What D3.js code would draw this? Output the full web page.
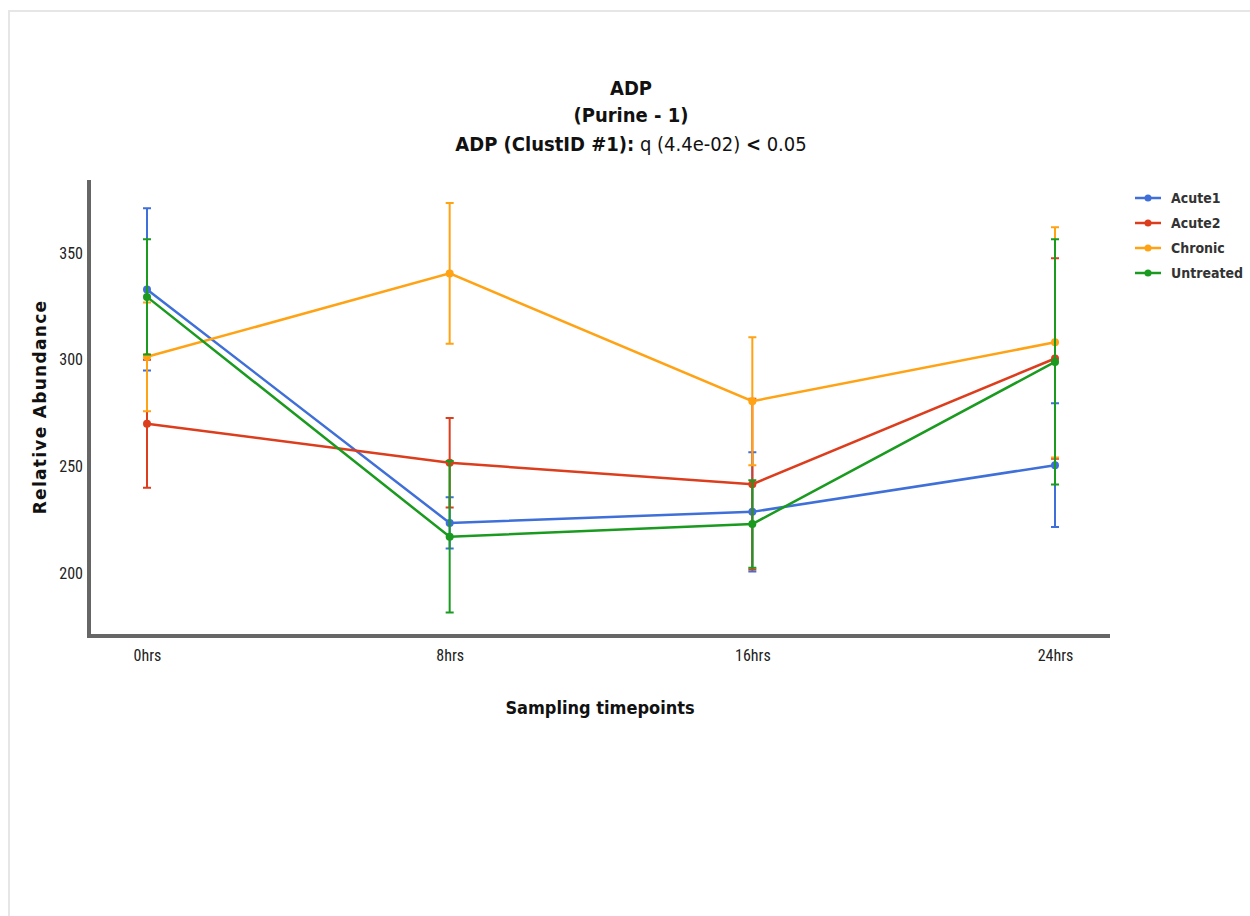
<!DOCTYPE html>
<html>
<head>
<meta charset="utf-8">
<script src="https://cdn.jsdelivr.net/npm/d3@7"></script>
<style>
  body { margin: 0; background: #fff; }
  svg { display: block; }
  .tick text { font-family: "Liberation Sans Narrow", "Roboto Condensed", "Liberation Sans", sans-serif; font-size: 16px; fill: #222; }
</style>
</head>
<body>
<div id="vis"></div>
<script>
// chart frame
const FRAME_WIDTH = 1250;
const FRAME_HEIGHT = 916;
const MARGINS = {left: 89, right: 140, top: 180, bottom: 280};

// data
const TIMEPOINTS = ["0hrs", "8hrs", "16hrs", "24hrs"];
const SERIES = ["Acute1", "Acute2", "Chronic", "Untreated"];
const COLORS = ["#3f6fd8", "#dc3d1c", "#ffa214", "#1a9a1f"];

const ACUTE1 = [333, 223.5, 228.7, 250.6];
const ACUTE1_ERR = [38, 12, 28, 29];
const ACUTE2 = [270, 251.7, 241.7, 300.6];
const ACUTE2_ERR = [30, 21, 40, 47];
const CHRONIC = [301.4, 340.5, 280.6, 308.2];
const CHRONIC_ERR = [25.5, 33, 30, 54];
const UNTREATED = [329.5, 217, 223, 299];
const UNTREATED_ERR = [27, 35.5, 20.5, 57.5];

const Y_TICKS = [200, 250, 300, 350];
const Y_DOMAIN = [170.5, 384.3];

const VALUES = [ACUTE1, ACUTE2, CHRONIC, UNTREATED];
const ERRORS = [ACUTE1_ERR, ACUTE2_ERR, CHRONIC_ERR, UNTREATED_ERR];

const SVG = d3.select("#vis")
  .append("svg")
    .attr("width", FRAME_WIDTH)
    .attr("height", FRAME_HEIGHT);

// light page border
SVG.append("path")
  .attr("d", "M9,916 V11 H1250")
  .attr("fill", "none")
  .attr("stroke", "#e6e6e6")
  .attr("stroke-width", 2);

// first and last timepoints sit a bit inside the axis ends
const X_SCALE = d3.scalePoint()
  .domain(TIMEPOINTS)
  .range([147, 1055]);

const Y_SCALE = d3.scaleLinear()
  .domain(Y_DOMAIN)
  .range([FRAME_HEIGHT - MARGINS.bottom, MARGINS.top]);

// titles
const TITLE = SVG.append("text")
  .attr("text-anchor", "middle")
  .attr("font-family", "'DejaVu Sans Condensed', 'Liberation Sans', sans-serif")
  .attr("font-size", 20)
  .attr("fill", "#111");
TITLE.append("tspan").attr("x", 631).attr("y", 95).attr("font-weight", "bold").text("ADP");
TITLE.append("tspan").attr("x", 631).attr("y", 122).attr("font-weight", "bold").text("(Purine - 1)");
const LINE3 = TITLE.append("tspan").attr("x", 631).attr("y", 151);
LINE3.append("tspan").attr("font-weight", "bold").text("ADP (ClustID #1):");
LINE3.append("tspan").text(" q (4.4e-02) ");
LINE3.append("tspan").attr("font-weight", "bold").text("<");
LINE3.append("tspan").text(" 0.05");

// axes
const X_AXIS = SVG.append("g")
  .attr("transform", "translate(0," + (FRAME_HEIGHT - MARGINS.bottom) + ")")
  .call(d3.axisBottom(X_SCALE).tickSize(0).tickPadding(14));
X_AXIS.select(".domain").remove();

const Y_AXIS = SVG.append("g")
  .attr("transform", "translate(" + (MARGINS.left - 6) + ",0)")
  .call(d3.axisLeft(Y_SCALE).tickValues(Y_TICKS).tickSize(0).tickPadding(0));
Y_AXIS.select(".domain").remove();

SVG.append("path")
  .attr("d", "M" + MARGINS.left + "," + Y_SCALE(Y_DOMAIN[1]) +
             "V" + Y_SCALE(Y_DOMAIN[0]) +
             "H" + (FRAME_WIDTH - MARGINS.right))
  .attr("fill", "none")
  .attr("stroke", "#666")
  .attr("stroke-width", 4);

// axis labels
SVG.append("text")
  .attr("x", 600)
  .attr("y", 714)
  .attr("text-anchor", "middle")
  .attr("font-family", "'DejaVu Sans Condensed', 'Liberation Sans', sans-serif")
  .attr("font-weight", "bold")
  .attr("font-size", 18)
  .attr("fill", "#111")
  .text("Sampling timepoints");

SVG.append("text")
  .attr("transform", "translate(46,407) rotate(-90)")
  .attr("text-anchor", "middle")
  .attr("font-family", "'DejaVu Sans', sans-serif")
  .attr("font-weight", "bold")
  .attr("font-size", 17)
  .attr("letter-spacing", 1.3)
  .attr("fill", "#111")
  .text("Relative Abundance");

// series
const line = d3.line()
  .x((d, i) => X_SCALE(TIMEPOINTS[i]))
  .y((d) => Y_SCALE(d));

SERIES.forEach((name, s) => {
  const g = SVG.append("g").attr("class", "series");
  const vals = VALUES[s];
  const errs = ERRORS[s];

  // error bars
  vals.forEach((v, i) => {
    const x = X_SCALE(TIMEPOINTS[i]);
    const y1 = Y_SCALE(v + errs[i]);
    const y2 = Y_SCALE(v - errs[i]);
    g.append("path")
      .attr("d", "M" + x + "," + y1 + "V" + y2 +
                 "M" + (x - 4) + "," + y1 + "H" + (x + 4) +
                 "M" + (x - 4) + "," + y2 + "H" + (x + 4))
      .attr("fill", "none")
      .attr("stroke", COLORS[s])
      .attr("stroke-width", 2);
  });

  g.append("path")
    .datum(vals)
    .attr("d", line)
    .attr("fill", "none")
    .attr("stroke", COLORS[s])
    .attr("stroke-width", 2.5);

  g.selectAll("circle")
    .data(vals)
    .enter()
    .append("circle")
      .attr("cx", (d, i) => X_SCALE(TIMEPOINTS[i]))
      .attr("cy", (d) => Y_SCALE(d))
      .attr("r", 4)
      .attr("fill", COLORS[s]);
});

// legend
const LEGEND = SVG.append("g")
  .attr("transform", "translate(1135,198)");
SERIES.forEach((name, s) => {
  const row = LEGEND.append("g").attr("transform", "translate(0," + (s * 25) + ")");
  row.append("line")
    .attr("x1", 0).attr("x2", 26)
    .attr("stroke", COLORS[s])
    .attr("stroke-width", 2.5);
  row.append("circle")
    .attr("cx", 13).attr("r", 3.5)
    .attr("fill", COLORS[s]);
  row.append("text")
    .attr("x", 36)
    .attr("y", 5)
    .attr("font-family", "'DejaVu Sans Condensed', 'Liberation Sans', sans-serif")
    .attr("font-weight", "bold")
    .attr("font-size", 14)
    .attr("fill", "#333")
    .text(name);
});
</script>
</body>
</html>
